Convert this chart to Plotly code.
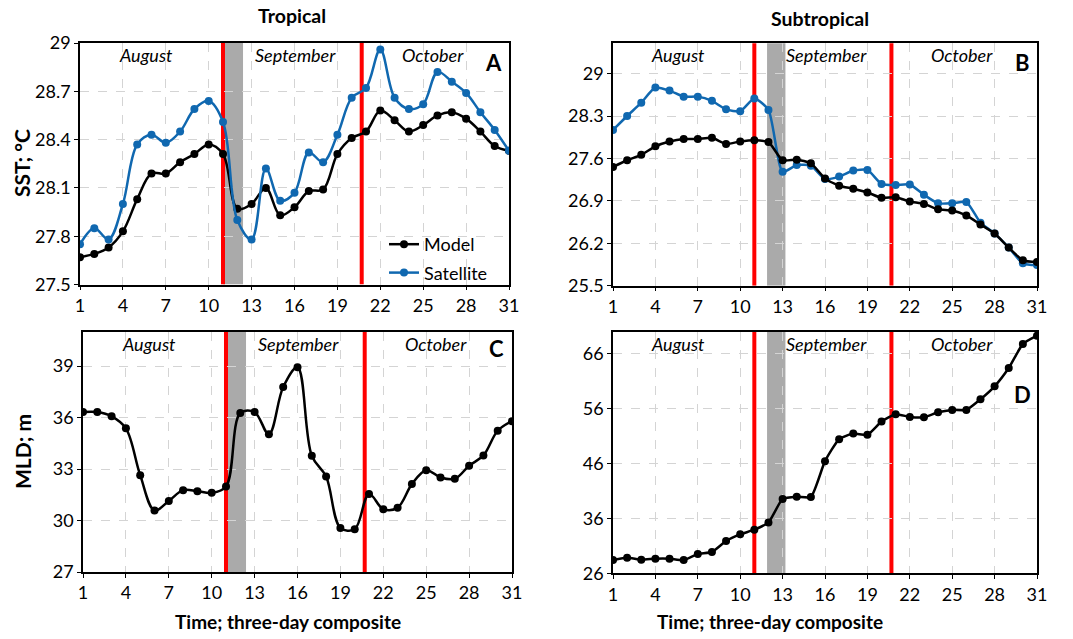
import plotly.graph_objects as go

# Three-day composite index (1 = first composite of August)
periods = list(range(1, 32))

# Tropical sea-surface temperature, degC
trop_sst_model = [27.67, 27.69, 27.73, 27.83, 28.03, 28.19, 28.19, 28.26, 28.31, 28.37,
                  28.31, 27.97, 28.00, 28.10, 27.93, 27.98, 28.08, 28.09, 28.31, 28.41,
                  28.45, 28.58, 28.52, 28.45, 28.49, 28.55, 28.57, 28.53, 28.45, 28.36, 28.33]
trop_sst_sat = [27.75, 27.85, 27.78, 28.00, 28.37, 28.43, 28.38, 28.45, 28.59, 28.64,
                28.51, 27.90, 27.78, 28.22, 28.02, 28.07, 28.32, 28.26, 28.43, 28.66,
                28.72, 28.96, 28.66, 28.59, 28.62, 28.82, 28.76, 28.69, 28.57, 28.46, 28.33]

# Subtropical sea-surface temperature, degC
sub_sst_model = [27.46, 27.57, 27.66, 27.80, 27.88, 27.92, 27.92, 27.94, 27.84, 27.88,
                 27.90, 27.87, 27.57, 27.58, 27.52, 27.27, 27.15, 27.10, 27.04, 26.95,
                 26.96, 26.89, 26.85, 26.76, 26.74, 26.66, 26.51, 26.36, 26.13, 25.92, 25.89]
sub_sst_sat = [28.07, 28.30, 28.52, 28.77, 28.72, 28.62, 28.62, 28.55, 28.41, 28.38,
               28.59, 28.40, 27.38, 27.49, 27.48, 27.26, 27.30, 27.40, 27.41, 27.18,
               27.16, 27.17, 27.00, 26.86, 26.86, 26.88, 26.54, 26.36, 26.13, 25.87, 25.84]

# Mixed-layer depth, m
trop_mld = [36.32, 36.32, 36.07, 35.37, 32.64, 30.58, 31.14, 31.77, 31.71, 31.61,
            31.98, 36.26, 36.32, 35.03, 37.78, 38.93, 33.77, 32.56, 29.57, 29.49,
            31.55, 30.66, 30.75, 32.12, 32.93, 32.51, 32.43, 33.19, 33.79, 35.23, 35.79]
sub_mld = [28.42, 28.85, 28.48, 28.67, 28.67, 28.42, 29.52, 29.88, 31.88, 33.09,
           33.94, 35.27, 39.52, 39.94, 39.88, 46.42, 50.42, 51.45, 51.21, 53.64,
           54.97, 54.48, 54.42, 55.33, 55.76, 55.76, 57.70, 60.06, 63.39, 67.76, 69.27]

x_ticks = list(range(1, 32, 3))
sst_trop_ticks = [27.5, 27.8, 28.1, 28.4, 28.7, 29.0]
sst_sub_ticks = [25.5, 26.2, 26.9, 27.6, 28.3, 29.0]
mld_trop_ticks = [27, 30, 33, 36, 39]
mld_sub_ticks = [26, 36, 46, 56, 66]

month_names = ["August", "September", "October"]
month_boundaries = [11.0, 20.7]
# shaded storm-passage composites per region
trop_storm = (11.0, 12.4)
sub_storm = (11.9, 13.2)

panel_letters = ["A", "B", "C", "D"]

FONT = "Lato, 'Open Sans', sans-serif"
BLUE = "#1068b0"
BLACK = "#000000"
RED = "#ff0000"
GRAY = "#aaaaaa"

fig = go.Figure()

def add_series(y, color, name, xa, ya, smooth, show):
    fig.add_trace(go.Scatter(
        x=periods, y=y, mode="lines+markers", name=name, legendgroup=name,
        line=dict(color=color, width=2.5, shape="spline", smoothing=smooth),
        marker=dict(color=color, size=8),
        xaxis=xa, yaxis=ya, showlegend=show))

add_series(trop_sst_model, BLACK, "Model", "x", "y", 1.0, True)
add_series(trop_sst_sat, BLUE, "Satellite", "x", "y", 1.0, True)
add_series(sub_sst_sat, BLUE, "Satellite", "x2", "y2", 0.6, False)
add_series(sub_sst_model, BLACK, "Model", "x2", "y2", 0.6, False)
add_series(trop_mld, BLACK, "Model", "x3", "y3", 1.0, False)
add_series(sub_mld, BLACK, "Model", "x4", "y4", 0.5, False)

px_w, px_h = 1073, 639
panels = {
    # suffix: (left, right, top, bottom) in pixels
    "": (80, 509, 43, 284.5),
    "2": (613, 1037, 43.3, 285.7),
    "3": (83, 512, 331.7, 572),
    "4": (613, 1037, 331.7, 573.3),
}
y_setup = {
    "": ([27.5, 29.0], sst_trop_ticks, ["27.5", "27.8", "28.1", "28.4", "28.7", "29"]),
    "2": ([25.5, 29.5], sst_sub_ticks, ["25.5", "26.2", "26.9", "27.6", "28.3", "29"]),
    "3": ([27, 41], mld_trop_ticks, [str(v) for v in mld_trop_ticks]),
    "4": ([26, 70], mld_sub_ticks, [str(v) for v in mld_sub_ticks]),
}

layout_axes = {}
for k, (l, r, t, b) in panels.items():
    rng, tv, tt = y_setup[k]
    common = dict(showline=True, linecolor="black", linewidth=1.5, mirror=True,
                  showgrid=True, gridcolor="#d4d4d4", griddash="dash", gridwidth=1,
                  ticks="outside", ticklen=4, tickcolor="black", zeroline=False,
                  automargin=False,
                  tickfont=dict(family=FONT, size=18, color="black"))
    layout_axes["xaxis" + k] = dict(common, domain=[l / px_w, r / px_w], range=[1, 31],
                                    tickvals=x_ticks, anchor="y" + k)
    layout_axes["yaxis" + k] = dict(common, domain=[1 - b / px_h, 1 - t / px_h], range=rng,
                                    tickvals=tv, ticktext=tt, anchor="x" + k)

fig.update_layout(**layout_axes)

shapes = []
for k, (l, r, t, b) in panels.items():
    xref = "x" + k
    yref = "y" + k
    rng = y_setup[k][0]
    top = rng[1] + (rng[1] - rng[0]) * 0.008
    storm = trop_storm if k in ("", "3") else sub_storm
    shapes.append(dict(type="rect", xref=xref, yref=yref, x0=storm[0], x1=storm[1],
                       y0=rng[0], y1=top, fillcolor=GRAY, line_width=0, layer="below"))
    for mb in month_boundaries:
        shapes.append(dict(type="line", xref=xref, yref=yref, x0=mb, x1=mb, y0=rng[0], y1=top,
                           line=dict(color=RED, width=4), layer="below"))

annotations = []
month_x = [5.6, 16.1, 25.7]
letter_pos = {"": 0.92, "2": 0.92, "3": 0.93, "4": 0.74}
for i, k in enumerate(panels):
    for name, mx in zip(month_names, month_x):
        annotations.append(dict(x=mx, y=0.95, xref="x" + k, yref="y" + k + " domain",
                                xanchor="center", yanchor="middle",
                                text="<i>" + name + "</i>", showarrow=False,
                                font=dict(family=FONT, size=18, color="black")))
    annotations.append(dict(x=0.965, y=letter_pos[k], xref="x" + k + " domain",
                            yref="y" + k + " domain", xanchor="center", yanchor="middle",
                            text="<b>" + panel_letters[i] + "</b>",
                            showarrow=False, font=dict(family=FONT, size=22, color="black")))

def paper_text(text, xp, yp, size=18, angle=0):
    annotations.append(dict(x=xp / px_w, y=1 - yp / px_h, xref="paper", yref="paper",
                            xanchor="center", yanchor="middle",
                            text="<b>" + text + "</b>", showarrow=False, textangle=angle,
                            font=dict(family=FONT, size=size, color="black")))

paper_text("Tropical", 292, 15, 19.5)
paper_text("Subtropical", 820, 19, 19.5)
paper_text("SST; °C", 21, 163, 21, -90)
paper_text("MLD; m", 22, 452, 21, -90)
paper_text("Time; three-day composite", 288, 621, 19)
paper_text("Time; three-day composite", 770, 621, 19)

fig.update_layout(
    width=px_w, height=px_h,
    margin=dict(l=0, r=0, t=0, b=0, autoexpand=False),
    paper_bgcolor="white", plot_bgcolor="white",
    shapes=shapes, annotations=annotations,
    font=dict(family=FONT, color="black"),
    legend=dict(x=384 / px_w, y=1 - 226 / px_h, xanchor="left", yanchor="top",
                bgcolor="rgba(0,0,0,0)", font=dict(family=FONT, size=18, color="black"),
                itemwidth=30, tracegroupgap=2),
)

fig.write_html("out.html")
